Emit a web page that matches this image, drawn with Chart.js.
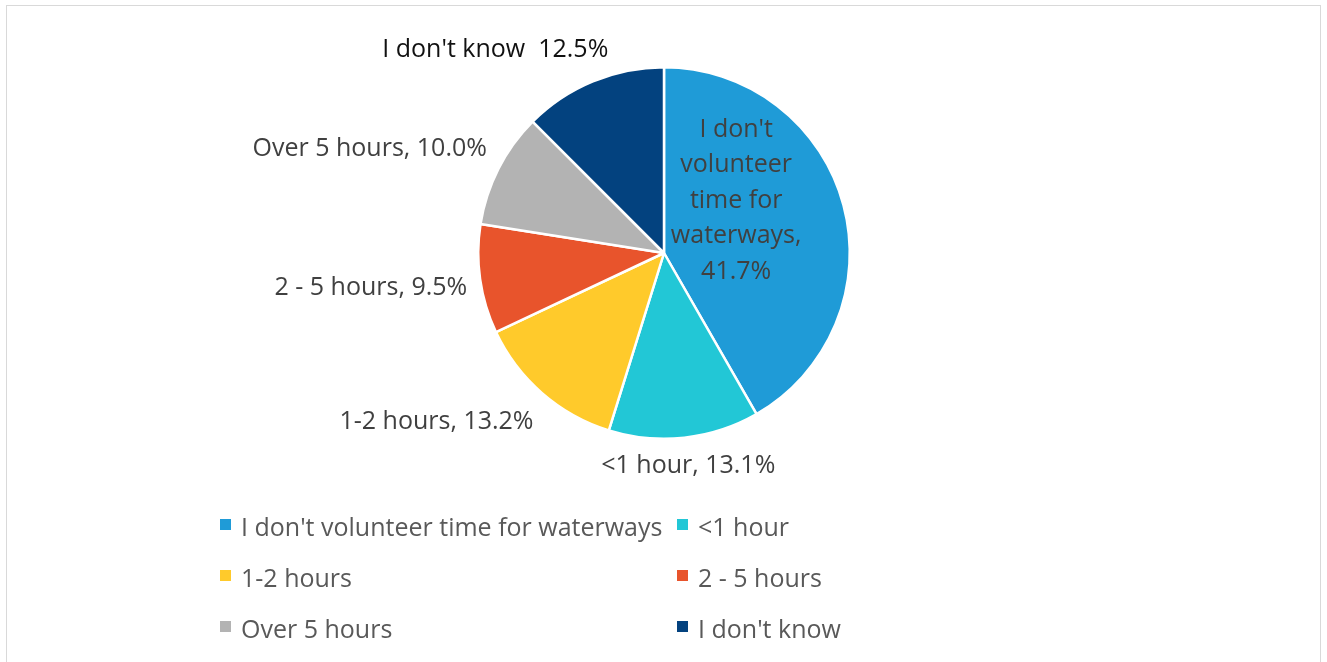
<!DOCTYPE html>
<html>
<head>
<meta charset="utf-8">
<script src="https://cdn.jsdelivr.net/npm/chart.js@4.4.1/dist/chart.umd.min.js"></script>
<style>
	html, body { margin: 0; padding: 0; background: #fff; }
	#wrap { position: relative; width: 1327px; height: 662px; overflow: hidden; }
	#frame { position: absolute; left: 6px; top: 5px; width: 1315px; height: 700px; border: 1.5px solid #d9d9d9; box-sizing: border-box; }
	#pie { position: absolute; left: 0; top: 0; }
	#legend { position: absolute; left: 220px; top: 508px; display: grid; grid-template-columns: 457px 300px; grid-auto-rows: 51px;
		font-family: "Open Sans", sans-serif; font-size: 25px; color: #595959; }
	#legend .item { display: flex; align-items: center; height: 36px; white-space: nowrap; }
	#legend .box { width: 11px; height: 11px; margin-right: 10px; margin-top: -3px; flex: none; }
</style>
</head>
<body>
<div id="wrap">
	<div id="frame"></div>
	<canvas id="pie" width="1327" height="662"></canvas>
	<div id="legend"></div>
</div>
<script>
var labels = ["I don't volunteer time for waterways", "<1 hour", "1-2 hours", "2 - 5 hours", "Over 5 hours", "I don't know"];
var values = [41.7, 13.1, 13.2, 9.5, 10.0, 12.5];
var colors = ["#1f9bd7", "#22c7d6", "#ffca2b", "#e8542c", "#b3b3b3", "#03427f"];
var separators = [", ", ", ", ", ", ", ", ", ", "  "];

var FONT = '25px "Open Sans"';

function clamp(v, lo, hi) { return Math.max(lo, Math.min(hi, v)); }

function wrap_text(ctx, text, maxw) {
	var words = text.split(" ");
	var lines = [];
	var cur = "";
	for (var i = 0; i < words.length; i++) {
		var test = cur ? cur + " " + words[i] : words[i];
		if (cur && ctx.measureText(test).width > maxw) {
			lines.push(cur);
			cur = words[i];
		} else {
			cur = test;
		}
	}
	if (cur) lines.push(cur);
	return lines;
}

var sliceLabels = {
	id: 'sliceLabels',
	afterDatasetsDraw: function (chart) {
		var ctx = chart.ctx;
		var meta = chart.getDatasetMeta(0);
		ctx.save();
		ctx.font = FONT;
		ctx.textAlign = 'center';
		ctx.textBaseline = 'middle';
		meta.data.forEach(function (arc, i) {
			var p = arc.getProps(['x', 'y', 'startAngle', 'endAngle', 'outerRadius'], true);
			var text = labels[i] + separators[i] + values[i].toFixed(1) + '%';
			if (i === 0) {
				// big slice: label inside, wrapped
				var a = p.startAngle + 0.36 * (p.endAngle - p.startAngle);
				var cx = p.x + Math.cos(a) * p.outerRadius * 0.48;
				var cy = p.y + Math.sin(a) * p.outerRadius * 0.48;
				var lines = wrap_text(ctx, text, 135);
				var lh = 35.5;
				ctx.fillStyle = '#404040';
				for (var j = 0; j < lines.length; j++) {
					ctx.fillText(lines[j], cx, cy + (j - (lines.length - 1) / 2) * lh);
				}
				return;
			}
			var mid = (p.startAngle + p.endAngle) / 2;
			var dx = Math.cos(mid), dy = Math.sin(mid);
			var ax = p.x + dx * (p.outerRadius + 13);
			var ay = p.y + dy * (p.outerRadius + 13);
			var w = ctx.measureText(text).width;
			// push the text box away from the pie, more so the further off-axis
			var fx = Math.sign(dx) * clamp((Math.abs(dx) - 0.1) * 2.9, 0, 1);
			var x = ax + fx * w / 2;
			var y;
			if (Math.abs(dx) <= 0.3) y = ay + dy * 15;
			else y = ay + clamp(dy * 3, -1, 1) * 9 + dy * 12 + 1;
			ctx.fillStyle = i === 5 ? '#111111' : '#404040';
			ctx.fillText(text, x, y);
		});
		ctx.restore();
	}
};

new Chart(document.getElementById('pie'), {
	type: 'pie',
	data: {
		labels: labels,
		datasets: [{
			data: values,
			backgroundColor: colors,
			borderColor: '#ffffff',
			borderWidth: 2.5
		}]
	},
	options: {
		responsive: false,
		animation: false,
		devicePixelRatio: 1,
		layout: { padding: { left: 477, right: 476, top: 66, bottom: 222 } },
		plugins: {
			legend: { display: false },
			tooltip: { enabled: false }
		}
	},
	plugins: [sliceLabels]
});

var legend = document.getElementById('legend');
for (var i = 0; i < labels.length; i++) {
	var item = document.createElement('div');
	item.className = 'item';
	var box = document.createElement('span');
	box.className = 'box';
	box.style.background = colors[i];
	var txt = document.createElement('span');
	txt.textContent = labels[i];
	item.appendChild(box);
	item.appendChild(txt);
	legend.appendChild(item);
}
</script>
</body>
</html>
